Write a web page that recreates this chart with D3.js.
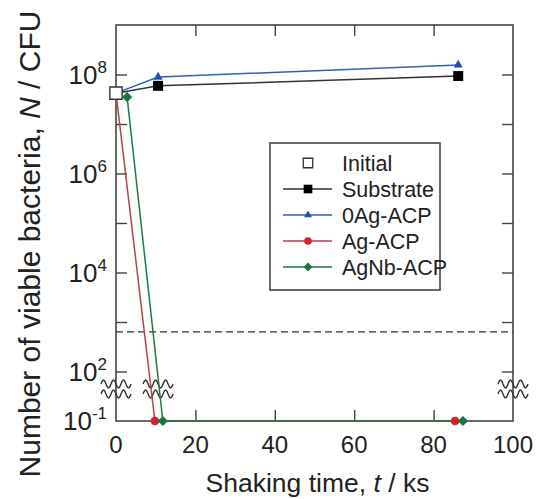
<!DOCTYPE html>
<html>
<head>
<meta charset="utf-8">
<script src="https://cdn.jsdelivr.net/npm/d3@7"></script>
<style>
  body { margin: 0; background: #fff; }
  text { font-family: "Liberation Sans", Arial, sans-serif; fill: #222; }
</style>
</head>
<body>
<script>
// data (time in ks, N in CFU); 0.1 = below detection, drawn at axis floor
const initialTime = [0];
const initialN = [4.2e7];
const substrateTime = [10.6, 86.2];
const substrateN = [5.9e7, 9.3e7];
const zeroAgTime = [10.6, 86.2];
const zeroAgN = [8.9e7, 1.56e8];
const agTime = [9.8, 85.4];
const agN = [0.1, 0.1];
const agNbTime = [2.8, 11.8, 87.4];
const agNbN = [3.5e7, 0.1, 0.1];
const detectionLimit = 630;

const xTicks = [0, 20, 40, 60, 80, 100];
const yMajor = [1e2, 1e4, 1e6, 1e8];
const yMinor = [1e3, 1e5, 1e7];
const yBottom = 0.1;

const svgWidth = 543, svgHeight = 499;
const margin = {left: 116, right: 30, top: 25, bottom: 78};
const width = svgWidth - margin.left - margin.right;
const height = svgHeight - margin.top - margin.bottom;

const svg = d3.select('body').append('svg')
  .attr('width', svgWidth)
  .attr('height', svgHeight);

const x = d3.scaleLinear().domain([0, 100]).range([margin.left, margin.left + width]);
// broken axis: values below 10 collapse onto the bottom edge (10^-1)
const y = d3.scaleLog().domain([10, 1e9]).range([margin.top + height, margin.top]).clamp(true);

const axisColor = '#444';
const tickLen = 11;

// frame
svg.append('rect')
  .attr('x', x(0)).attr('y', y(1e9))
  .attr('width', x(100) - x(0)).attr('height', y(10) - y(1e9))
  .attr('fill', 'none').attr('stroke', axisColor).attr('stroke-width', 1.6);

// inward ticks
const g = svg.append('g');
g.append('g').attr('transform', `translate(0,${y(10)})`)
  .call(d3.axisBottom(x).tickValues(xTicks.slice(1, -1)).tickSizeInner(-tickLen).tickSizeOuter(0).tickFormat(''))
  .call(a => a.select('.domain').remove());
g.append('g').attr('transform', `translate(0,${y(1e9)})`)
  .call(d3.axisTop(x).tickValues(xTicks.slice(1, -1)).tickSizeInner(-tickLen).tickSizeOuter(0).tickFormat(''))
  .call(a => a.select('.domain').remove());
g.append('g').attr('transform', `translate(${x(0)},0)`)
  .call(d3.axisLeft(y).tickValues(yMajor.concat(yMinor)).tickSizeInner(-tickLen).tickSizeOuter(0).tickFormat(''))
  .call(a => a.select('.domain').remove());
g.append('g').attr('transform', `translate(${x(100)},0)`)
  .call(d3.axisRight(y).tickValues(yMajor.concat(yMinor)).tickSizeInner(-tickLen).tickSizeOuter(0).tickFormat(''))
  .call(a => a.select('.domain').remove());
g.selectAll('.tick line').attr('stroke', axisColor).attr('stroke-width', 1.4);

// x tick labels
svg.append('g').selectAll('text').data(xTicks).enter().append('text')
  .attr('x', d => x(d)).attr('y', y(10) + 32)
  .attr('text-anchor', 'middle').attr('font-size', 24)
  .text(d => d);

// y tick labels
const yLab = svg.append('g').selectAll('text').data(yMajor.concat([yBottom])).enter().append('text')
  .attr('x', x(0) - 9).attr('y', d => y(d) + 9)
  .attr('text-anchor', 'end').attr('font-size', 26);
yLab.append('tspan').text('10');
yLab.append('tspan').attr('dy', -11).attr('font-size', 17).text(d => Math.round(Math.log10(d)));

// axis titles
svg.append('text')
  .attr('x', (x(0) + x(100)) / 2 + 3).attr('y', 492)
  .attr('text-anchor', 'middle').attr('font-size', 26.5)
  .call(t => {
    t.append('tspan').text('Shaking time, ');
    t.append('tspan').attr('font-style', 'italic').text('t');
    t.append('tspan').text(' / ks');
  });
svg.append('text')
  .attr('transform', `translate(40,244) rotate(-90)`)
  .attr('text-anchor', 'middle').attr('font-size', 30)
  .call(t => {
    t.append('tspan').text('Number of viable bacteria, ');
    t.append('tspan').attr('font-style', 'italic').text('N');
    t.append('tspan').text(' / CFU');
  });

// detection limit
svg.append('line')
  .attr('x1', x(0)).attr('x2', x(100))
  .attr('y1', y(detectionLimit)).attr('y2', y(detectionLimit))
  .attr('stroke', '#333').attr('stroke-width', 1.3).attr('stroke-dasharray', '7,4');

// break marks
function wave(cx, cy) {
  const pts = d3.range(0, 31).map(i => [cx - 15 + i, cy - 4 * Math.sin(i / 10 * 2 * Math.PI)]);
  return d3.line().curve(d3.curveCardinal)(pts);
}
const breaks = svg.append('g');
[x(0), x(10.6), x(100)].forEach(bx => {
  [384, 394].forEach(by => {
    breaks.append('path').attr('d', wave(bx, by))
      .attr('fill', 'none').attr('stroke', '#333').attr('stroke-width', 1.4);
  });
});

// series
const series = [
  {name: 'Substrate', time: substrateTime, n: substrateN, line: '#333', fill: '#000', shape: d3.symbolSquare, size: 100, rot: 0, fromInitial: true},
  {name: '0Ag-ACP', time: zeroAgTime, n: zeroAgN, line: '#2a62b8', fill: '#1f4fb0', shape: d3.symbolTriangle, size: 36, rot: 0, fromInitial: true},
  {name: 'Ag-ACP', time: agTime, n: agN, line: '#b8404c', fill: '#d8202c', shape: d3.symbolCircle, size: 60, rot: 0, fromInitial: true},
  {name: 'AgNb-ACP', time: agNbTime, n: agNbN, line: '#1d7a40', fill: '#17773a', shape: d3.symbolSquare, size: 52, rot: 45, fromInitial: false}
];

const line = d3.line().x(d => x(d[0])).y(d => y(d[1]));

series.forEach(s => {
  let pts = s.time.map((t, i) => [t, s.n[i]]);
  if (s.fromInitial) pts = [[initialTime[0], initialN[0]]].concat(pts);
  svg.append('path').attr('d', line(pts))
    .attr('fill', 'none').attr('stroke', s.line).attr('stroke-width', 1.5);
});

// initial point
svg.append('g').selectAll('path').data(initialTime).enter().append('path')
  .attr('d', d3.symbol(d3.symbolSquare, 150))
  .attr('transform', (d, i) => `translate(${x(d)},${y(initialN[i])})`)
  .attr('fill', '#fff').attr('stroke', '#333').attr('stroke-width', 1.4);

series.forEach(s => {
  svg.append('g').selectAll('path').data(s.time).enter().append('path')
    .attr('d', d3.symbol(s.shape, s.size))
    .attr('transform', (d, i) => `translate(${x(d)},${y(s.n[i])}) rotate(${s.rot})`)
    .attr('fill', s.fill);
});

// legend
const legend = svg.append('g');
const lx = 270, ly = 143, lw = 170, lh = 147;
legend.append('rect').attr('x', lx).attr('y', ly).attr('width', lw).attr('height', lh)
  .attr('fill', '#fff').attr('stroke', '#444').attr('stroke-width', 1.6);
const rowY = i => ly + 20 + i * 26;
const items = [{name: 'Initial'}].concat(series);
items.forEach((s, i) => {
  const cy = rowY(i);
  const row = legend.append('g');
  if (s.line) {
    row.append('line').attr('x1', lx + 13).attr('x2', lx + 62).attr('y1', cy).attr('y2', cy)
      .attr('stroke', s.line).attr('stroke-width', 1.5);
    row.append('path').attr('d', d3.symbol(s.shape, s.size * 0.75))
      .attr('transform', `translate(${lx + 38},${cy}) rotate(${s.rot})`).attr('fill', s.fill);
  } else {
    row.append('path').attr('d', d3.symbol(d3.symbolSquare, 90))
      .attr('transform', `translate(${lx + 38},${cy})`)
      .attr('fill', '#fff').attr('stroke', '#333').attr('stroke-width', 1.3);
  }
  row.append('text').attr('x', lx + 72).attr('y', cy + 8).attr('font-size', 21.5).text(s.name);
});
</script>
</body>
</html>
